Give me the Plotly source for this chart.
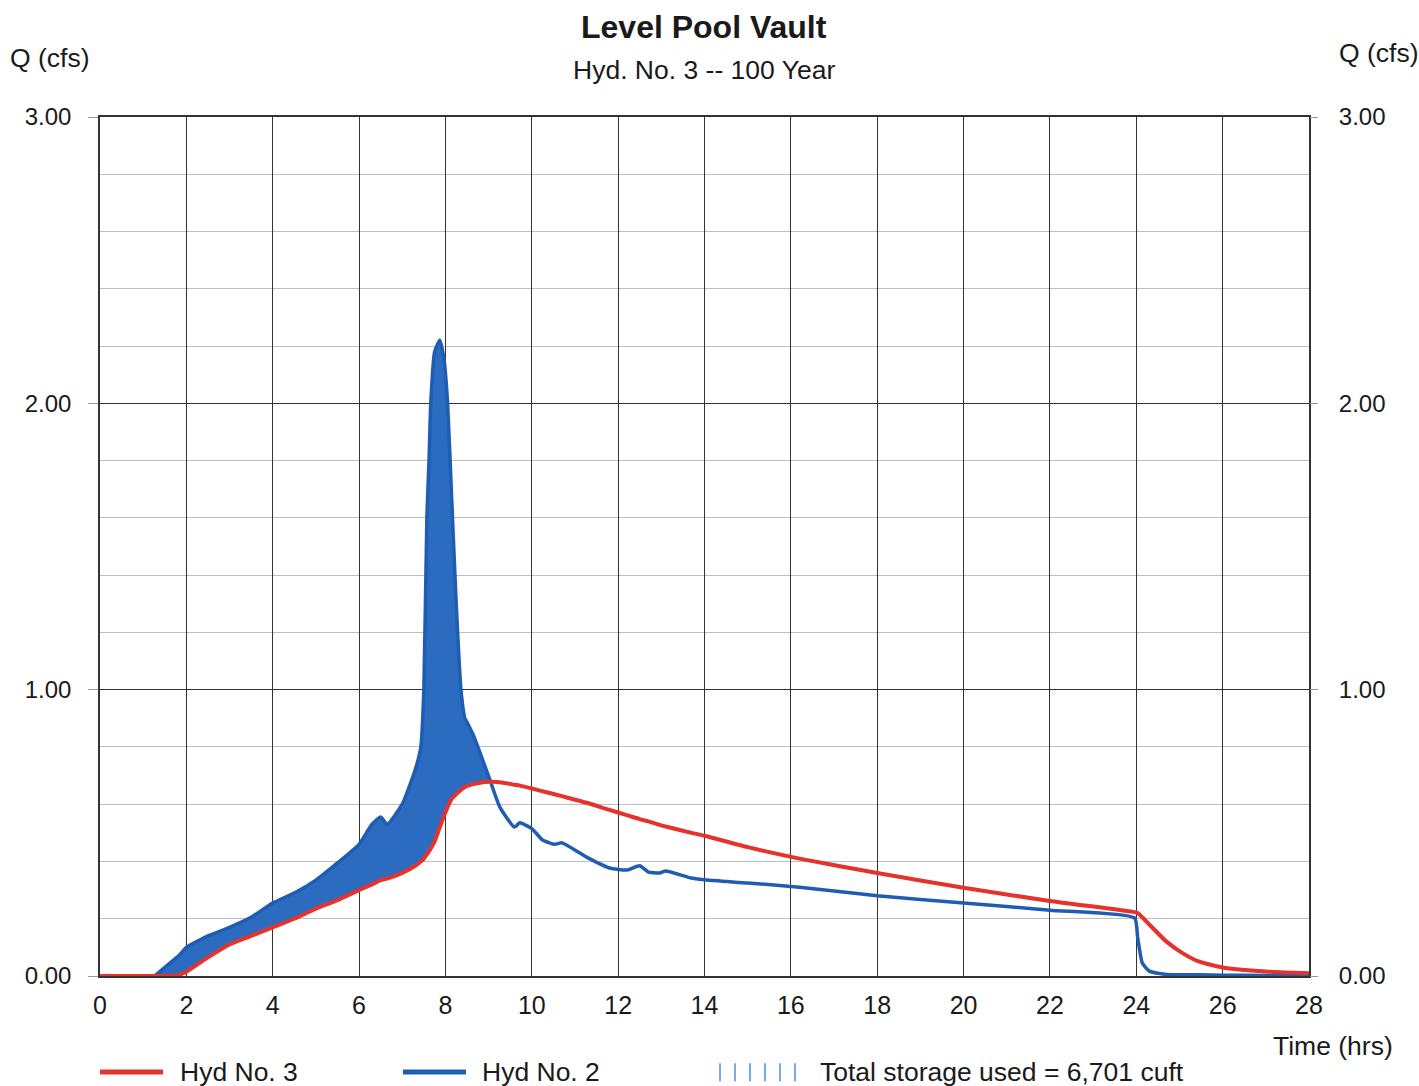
import numpy as np
import plotly.graph_objects as go

# ---- data ----
time_hrs = [0, 1.0, 1.25, 1.5, 1.85, 2.0, 2.3, 2.5, 3.0, 3.5, 4.0, 4.5, 5.0, 5.5, 6.0, 6.3, 6.5, 6.65,
            7.0, 7.3, 7.43, 7.5, 7.57, 7.62, 7.66, 7.75, 7.87, 7.97, 8.05, 8.15, 8.25, 8.36, 8.45, 8.52,
            8.65, 8.8, 9.03, 9.26, 9.6, 9.72, 10.0, 10.25, 10.53, 10.7, 11.27, 11.8, 12.2, 12.5, 12.7,
            12.96, 13.1, 13.7, 14.05, 15.0, 16.2, 18.0, 20.0, 22.0, 23.96, 24.03, 24.14, 24.3, 24.7,
            25.07, 25.46, 26.0, 27.0, 28.0]

hyd2_cfs = [0, 0, 0, 0.03, 0.075, 0.10, 0.125, 0.14, 0.17, 0.205, 0.255, 0.29, 0.335, 0.395, 0.46, 0.53, 0.555, 0.53,
            0.60, 0.72, 0.80, 1.0, 1.6, 1.8, 2.0, 2.18, 2.22, 2.15, 2.0, 1.65, 1.3, 1.0, 0.9, 0.88,
            0.84, 0.78, 0.685, 0.59, 0.52, 0.535, 0.515, 0.475, 0.46, 0.465, 0.415, 0.377, 0.37, 0.385, 0.363,
            0.36, 0.367, 0.342, 0.335, 0.325, 0.31, 0.28, 0.255, 0.23, 0.203, 0.136, 0.045, 0.017, 0.005,
            0.004, 0.004, 0.003, 0.002, 0.002]

hyd3_cfs = [0, 0, 0, 0, 0.005, 0.015, 0.045, 0.065, 0.11, 0.14, 0.17, 0.20, 0.235, 0.265, 0.30, 0.32, 0.335, 0.34,
            0.36, 0.385, 0.40, 0.41, 0.425, 0.435, 0.445, 0.47, 0.52, 0.56, 0.59, 0.62, 0.635, 0.65, 0.66, 0.665,
            0.67, 0.675, 0.678, 0.677, 0.668, 0.665, 0.655, 0.645, 0.635, 0.628, 0.605, 0.58, 0.562, 0.548, 0.54,
            0.528, 0.522, 0.50, 0.488, 0.45, 0.41, 0.36, 0.308, 0.262, 0.223, 0.22, 0.205, 0.18, 0.12,
            0.08, 0.05, 0.03, 0.016, 0.01]

x_ticks = [0, 2, 4, 6, 8, 10, 12, 14, 16, 18, 20, 22, 24, 26, 28]
y_ticks = [0, 1, 2, 3]
y_tick_labels = ["0.00", "1.00", "2.00", "3.00"]

title_text = "Level Pool Vault"
subtitle_text = "Hyd. No. 3 -- 100 Year"
storage_text = "Total storage used = 6,701 cuft"

RED = "#e5322d"
BLUE = "#1f5db3"
FILL = "#2c6cc0"
FONT = "Liberation Sans, Arial, sans-serif"
SMOOTH = 0.5

fig = go.Figure()

# storage fill (where inflow exceeds outflow)
fig.add_trace(go.Scatter(x=time_hrs, y=hyd3_cfs, mode="lines", line=dict(width=0, shape="spline", smoothing=SMOOTH),
                         showlegend=False, hoverinfo="skip"))
fig.add_trace(go.Scatter(x=time_hrs, y=np.maximum(hyd2_cfs, hyd3_cfs), mode="lines",
                         line=dict(width=0, shape="spline", smoothing=SMOOTH), fill="tonexty", fillcolor=FILL,
                         showlegend=False, hoverinfo="skip"))
# Hyd No. 2 (inflow)
fig.add_trace(go.Scatter(x=time_hrs, y=hyd2_cfs, mode="lines", name="Hyd No. 2",
                         line=dict(color=BLUE, width=3.5, shape="spline", smoothing=SMOOTH), showlegend=False))
# Hyd No. 3 (outflow)
fig.add_trace(go.Scatter(x=time_hrs, y=hyd3_cfs, mode="lines", name="Hyd No. 3",
                         line=dict(color=RED, width=4, shape="spline", smoothing=SMOOTH), showlegend=False))
# right axis dummy
fig.add_trace(go.Scatter(x=[0], y=[0], yaxis="y2", mode="markers", marker=dict(opacity=0),
                         showlegend=False, hoverinfo="skip"))

fig.update_layout(
    width=1419, height=1086,
    margin=dict(l=100, r=110, t=117, b=110),
    paper_bgcolor="white", plot_bgcolor="white",
    font=dict(family=FONT, size=25, color="#1a1a1a"),
    xaxis=dict(range=[0, 28], tickvals=x_ticks, showgrid=True, gridcolor="#333333", gridwidth=1.2,
               showline=True, linecolor="#333333", linewidth=1.5, mirror=True, zeroline=False,
               ticks="", ticklabelstandoff=6, tickfont=dict(size=25)),
    yaxis=dict(range=[0, 3], tickvals=y_ticks, ticktext=y_tick_labels, showgrid=True,
               gridcolor="#333333", gridwidth=1.2, showline=True, linecolor="#333333", linewidth=1.5,
               mirror=True, zeroline=False, ticks="outside", ticklen=10, tickcolor="#999999",
               ticklabelstandoff=12, tickfont=dict(size=24),
               minor=dict(dtick=0.2, showgrid=True, gridcolor="#bdbdbd", gridwidth=1)),
    yaxis2=dict(range=[0, 3], tickvals=y_ticks, ticktext=y_tick_labels, overlaying="y", side="right",
                showgrid=False, zeroline=False, ticks="outside", ticklen=8, tickcolor="#999999",
                ticklabelstandoff=16, tickfont=dict(size=24)),
)

ann = []
def add_text(text, x, y, size, xanchor="center", bold=False):
    ann.append(dict(text=f"<b>{text}</b>" if bold else text, x=x, y=y, xref="paper", yref="paper",
                    xanchor=xanchor, yanchor="middle", showarrow=False,
                    font=dict(family=FONT, size=size, color="#1a1a1a")))

add_text(title_text, 0.4996, 1.1048, 32, bold=True)
add_text(subtitle_text, 0.4996, 1.0547, 26.5)
add_text("Q (cfs)", -0.0761, 1.0687, 26.5, xanchor="left")
add_text("Q (cfs)", 1.0232, 1.0745, 26.5, xanchor="left")
add_text("Time (hrs)", 1.0711, -0.0815, 26.5, xanchor="right")
add_text("Hyd No. 3", 0.0645, -0.1118, 26.5, xanchor="left")
add_text("Hyd No. 2", 0.3143, -0.1118, 26.5, xanchor="left")
add_text(storage_text, 0.5939, -0.1118, 26.5, xanchor="left")
fig.update_layout(annotations=ann)

shapes = [
    dict(type="line", xref="paper", yref="paper", x0=0.0, x1=0.0521, y0=-0.1118, y1=-0.1118,
         line=dict(color=RED, width=5)),
    dict(type="line", xref="paper", yref="paper", x0=0.2506, x1=0.3027, y0=-0.1118, y1=-0.1118,
         line=dict(color=BLUE, width=5)),
]
for i in range(6):
    px = 720 + i * 15
    xp = (px - 100) / 1209
    shapes.append(dict(type="line", xref="paper", yref="paper", x0=xp, x1=xp, y0=-0.1225, y1=-0.1015,
                       line=dict(color="#4a8fe0", width=1.5)))
fig.update_layout(shapes=shapes)

fig.write_html("out.html", config={"displayModeBar": False},
               post_script="document.body.style.margin='0';document.body.style.overflow='hidden';")
